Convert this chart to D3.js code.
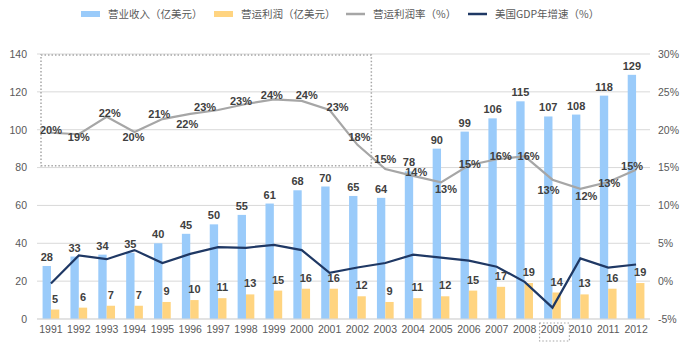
<!DOCTYPE html>
<html>
<head>
<meta charset="utf-8">
<script src="https://cdn.jsdelivr.net/npm/d3@7"></script>
<style>
  body { margin: 0; background: #fff; }
  text { font-family: "Liberation Sans", Arial, sans-serif; }
  .cjk { font-family: "Noto Sans CJK SC", "Liberation Sans", sans-serif; }
</style>
</head>
<body>
<svg id="chart" width="684" height="353"></svg>
<script>
const years = ["1991","1992","1993","1994","1995","1996","1997","1998","1999","2000","2001",
  "2002","2003","2004","2005","2006","2007","2008","2009","2010","2011","2012"];
const revenue = [28,33,34,35,40,45,50,55,61,68,70,65,64,78,90,99,106,115,107,108,118,129];
const profit = [5,6,7,7,9,10,11,13,15,16,16,12,9,11,12,15,17,19,14,13,16,19];
const margin = [19.6,19.4,21.7,19.7,21.4,22.1,22.6,23.4,24.0,23.8,22.6,18.0,14.8,13.9,13.05,15.3,16.1,16.5,13.4,12.2,13.1,14.7];
const marginLabels = ["20%","19%","22%","20%","21%","22%","23%","23%","24%","24%","23%","18%","15%","14%","13%","15%","16%","16%","13%","12%","13%","15%"];
const gdp = [-0.3,3.4,2.9,4.1,2.4,3.6,4.5,4.4,4.8,4.1,1.1,1.8,2.4,3.5,3.1,2.7,1.9,-0.1,-3.5,3.0,1.8,2.2];
const leftTicks = [0,20,40,60,80,100,120,140];
const rightTicks = [-5,0,5,10,15,20,25,30];

// label nudges for the margin line (dx, dy) in px
const marginLabelDx = [0,0,3,-1,-3,-3,-13,-5,-2,5,8,2,0,3,5,1,4,4,-4,6,1,-4];
const marginLabelDy = [-3,3,-4,5,-5,10,-3,-3,-4,-6,-3,-8,-10,-4,7,-1,-3,0,10,7,1,-4];

const svg = d3.select("#chart");
const plotLeft = 37, plotRight = 650, plotTop = 54, plotBottom = 319;

const x = d3.scaleBand().domain(years).range([plotLeft, plotRight]).padding(0);
const yL = d3.scaleLinear().domain([0, 140]).range([plotBottom, plotTop]);
const yR = d3.scaleLinear().domain([-5, 30]).range([plotBottom, plotTop]);
const barW = x.bandwidth() * 0.3;
const cx = d => x(d) + x.bandwidth() / 2;

const textCol = "#595959", labelCol = "#404040";
const blue = "#9ACBFA", orange = "#FFD480", grey = "#A6A6A6", navy = "#1F3864";

// gridlines
svg.append("g").selectAll("line").data(leftTicks).join("line")
  .attr("x1", plotLeft).attr("x2", plotRight)
  .attr("y1", d => yL(d)).attr("y2", d => yL(d))
  .attr("stroke", "#d9d9d9").attr("stroke-width", 1);

// left axis
const axL = svg.append("g").attr("transform", "translate(" + (plotLeft - 10) + ",0)")
  .call(d3.axisLeft(yL).tickValues(leftTicks).tickSize(0).tickPadding(0));
axL.select(".domain").remove();
axL.selectAll("text").attr("fill", textCol).style("font-size", "10.5px")
  .style("font-family", "Liberation Sans, Arial, sans-serif");

// right axis
const axR = svg.append("g").attr("transform", "translate(" + (plotRight + 8) + ",0)")
  .call(d3.axisRight(yR).tickValues(rightTicks).tickSize(0).tickPadding(0).tickFormat(d => d + "%"));
axR.select(".domain").remove();
axR.selectAll("text").attr("fill", textCol).style("font-size", "10.5px")
  .style("font-family", "Liberation Sans, Arial, sans-serif");

// x axis
const axX = svg.append("g").attr("transform", "translate(0," + plotBottom + ")")
  .call(d3.axisBottom(x).tickSize(0).tickPadding(7));
axX.select(".domain").remove();
axX.selectAll("text").attr("fill", textCol).style("font-size", "10.5px")
  .style("font-family", "Liberation Sans, Arial, sans-serif");

// bars
svg.append("g").selectAll("rect").data(years).join("rect")
  .attr("x", d => cx(d) - barW).attr("width", barW)
  .attr("y", (d, i) => yL(revenue[i])).attr("height", (d, i) => plotBottom - yL(revenue[i]))
  .attr("fill", blue);
svg.append("g").selectAll("rect").data(years).join("rect")
  .attr("x", d => cx(d)).attr("width", barW)
  .attr("y", (d, i) => yL(profit[i])).attr("height", (d, i) => plotBottom - yL(profit[i]))
  .attr("fill", orange);

// baseline
svg.append("line").attr("x1", plotLeft).attr("x2", plotRight).attr("y1", plotBottom).attr("y2", plotBottom)
  .attr("stroke", "#d9d9d9").attr("stroke-width", 1);

// lines
const pctLine = d3.line().x((d, i) => cx(years[i])).y(d => yR(d));
svg.append("path").datum(margin).attr("d", pctLine)
  .attr("fill", "none").attr("stroke", grey).attr("stroke-width", 2.2);
svg.append("path").datum(gdp).attr("d", pctLine)
  .attr("fill", "none").attr("stroke", navy).attr("stroke-width", 2.2);

// bar labels
svg.append("g").selectAll("text").data(years).join("text")
  .attr("x", d => cx(d) - barW / 2).attr("y", (d, i) => yL(revenue[i]) - 5)
  .attr("text-anchor", "middle").attr("fill", labelCol)
  .style("font-size", "11px").style("font-weight", "bold")
  .text((d, i) => revenue[i]);
svg.append("g").selectAll("text").data(years).join("text")
  .attr("x", d => cx(d) + barW / 2).attr("y", (d, i) => yL(profit[i]) - 7)
  .attr("text-anchor", "middle").attr("fill", labelCol)
  .style("font-size", "11px").style("font-weight", "bold")
  .text((d, i) => profit[i]);

// margin labels
svg.append("g").selectAll("text").data(years).join("text")
  .attr("x", (d, i) => cx(d) + marginLabelDx[i])
  .attr("y", (d, i) => yR(margin[i]) + marginLabelDy[i])
  .attr("dy", "0.35em")
  .attr("text-anchor", "middle").attr("fill", labelCol)
  .style("font-size", "11px").style("font-weight", "bold")
  .text((d, i) => marginLabels[i]);

// dotted annotation boxes
svg.append("rect")
  .attr("x", x("1991") + 4).attr("y", yL(140) + 1)
  .attr("width", x("2002") + x.bandwidth() - x("1991") - 4)
  .attr("height", yL(81) - yL(140) - 1)
  .attr("fill", "none").attr("stroke", "#a6a6a6").attr("stroke-width", 1.5)
  .attr("stroke-dasharray", "1.5,2");
svg.append("rect")
  .attr("x", x("2009") + 1).attr("y", plotBottom + 4)
  .attr("width", x.bandwidth() + 2).attr("height", 18)
  .attr("fill", "none").attr("stroke", "#a6a6a6").attr("stroke-width", 1.2)
  .attr("stroke-dasharray", "1.5,2");

// legend
const legend = [
  { name: "营业收入（亿美元）", type: "rect", color: blue, x: 81 },
  { name: "营运利润（亿美元）", type: "rect", color: orange, x: 214 },
  { name: "营运利润率（%）", type: "line", color: grey, x: 346 },
  { name: "美国GDP年增速（%）", type: "line", color: navy, x: 468 }
];
const lg = svg.append("g").selectAll("g").data(legend).join("g")
  .attr("transform", d => "translate(" + d.x + ",14)");
lg.filter(d => d.type === "rect").append("rect")
  .attr("x", 0).attr("y", -3).attr("width", 19).attr("height", 6).attr("fill", d => d.color);
lg.filter(d => d.type === "line").append("line")
  .attr("x1", 0).attr("x2", 19).attr("y1", 0).attr("y2", 0)
  .attr("stroke", d => d.color).attr("stroke-width", 2.5);
lg.append("text").attr("class", "cjk").attr("x", 27).attr("dy", "0.35em")
  .attr("fill", textCol).style("font-size", "10.5px").text(d => d.name);
</script>
</body>
</html>
